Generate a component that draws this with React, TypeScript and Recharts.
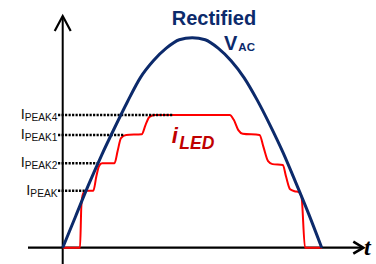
import React from 'react';
import { ComposedChart, Line, XAxis, YAxis, ReferenceLine, ReferenceDot } from 'recharts';

// Rectified AC voltage (time in ms, normalised amplitude)
const vacTime = [0, 0.5, 1, 1.5, 2, 2.5, 3, 3.5, 4, 4.5, 5, 5.5, 6, 6.5, 7, 7.5, 8, 8.5, 9, 9.5, 10];
const vacValue = [0, 15, 30, 44, 57, 69.5, 81, 89, 95, 99, 100, 99, 95, 89, 81, 70.5, 58.5, 45.5, 31, 16, 0];

// LED current (stepped)
const iledTime = [0, 0.668, 0.72, 0.78, 0.88, 1.18, 1.3, 1.4, 1.52, 2.0, 2.12, 2.25, 2.45, 3.05, 3.2, 3.35, 3.56, 6.45, 6.6, 6.78, 6.95, 7.6, 7.75, 7.93, 8.1, 8.5, 8.62, 8.78, 8.95, 9.1, 9.22, 9.355, 10];
const iledValue = [0, 0, 20, 25.5, 27.1, 27.1, 34, 38.8, 40.2, 40.2, 46, 52.2, 53.7, 54, 58.5, 62.3, 63.2, 63.2, 61, 56, 54.3, 53.7, 48, 41.2, 39.8, 39.4, 34, 27.8, 26.9, 26.6, 24.3, 0, 0];

// Peak current levels
const peakNames = ['PEAK4', 'PEAK1', 'PEAK2', 'PEAK'];
const peakLevels = [63.2, 53.7, 40.2, 27.1];
const peakDotEnd = [4.26, 2.34, 1.44, 0.86];

const vacData = vacTime.map((t, i) => ({ t, v: vacValue[i] }));
const iledData = iledTime.map((t, i) => ({ t, i: iledValue[i] }));

const NAVY = '#0c2a6b';
const RED = '#ff0000';
const FONT = 'Liberation Sans, Arial, sans-serif';

const X_DOMAIN: [number, number] = [-1.34, 11.606];
const Y_DOMAIN: [number, number] = [-7.762, 110.333];

export default function App() {
  return (
    <div style={{ position: 'absolute', left: 0, top: 0, background: '#fff' }}>
      <ComposedChart
        width={376}
        height={264}
        margin={{ top: 16, right: 12.7, bottom: 0, left: 28 }}
      >
        <XAxis dataKey="t" type="number" domain={X_DOMAIN} allowDataOverflow hide />
        <YAxis type="number" domain={Y_DOMAIN} allowDataOverflow hide />

        {/* axes */}
        <ReferenceLine
          segment={[{ x: X_DOMAIN[0], y: 0 }, { x: 11.55, y: 0 }]}
          stroke="#000"
          strokeWidth={2.2}
          ifOverflow="visible"
        />
        <ReferenceLine
          segment={[{ x: 0, y: Y_DOMAIN[0] }, { x: 0, y: 110.1 }]}
          stroke="#000"
          strokeWidth={2}
          ifOverflow="visible"
        />
        <ReferenceDot
          x={X_DOMAIN[1]}
          y={0}
          ifOverflow="visible"
          shape={(p: any) => (
            <polyline
              points={`${p.cx - 10},${p.cy - 6} ${p.cx},${p.cy} ${p.cx - 10},${p.cy + 6}`}
              fill="none"
              stroke="#000"
              strokeWidth={2.6}
            />
          )}
        />
        <ReferenceDot
          x={0}
          y={Y_DOMAIN[1]}
          ifOverflow="visible"
          shape={(p: any) => (
            <polyline
              points={`${p.cx - 8},${p.cy + 15} ${p.cx},${p.cy} ${p.cx + 8},${p.cy + 15}`}
              fill="none"
              stroke="#000"
              strokeWidth={2.2}
            />
          )}
        />

        <Line
          data={iledData}
          dataKey="i"
          type="monotone"
          stroke={RED}
          strokeWidth={2}
          dot={false}
          activeDot={false}
          isAnimationActive={false}
        />

        {peakLevels.map((lvl, k) => (
          <ReferenceLine
            key={peakNames[k]}
            segment={[{ x: -0.18, y: lvl }, { x: peakDotEnd[k], y: lvl }]}
            ifOverflow="visible"
            shape={(p: any) => (
              <g>
                <line
                  x1={p.x1}
                  y1={p.y1}
                  x2={p.x2}
                  y2={p.y2}
                  stroke="#000"
                  strokeWidth={2.4}
                  strokeDasharray="2.2 1.3"
                />
                <text
                  x={Math.min(p.x1, p.x2) - 0.5}
                  y={p.y1 + 4}
                  textAnchor="end"
                  fontFamily={FONT}
                  fill="#111"
                >
                  <tspan fontSize={14.5}>I</tspan>
                  <tspan fontSize={10.2} dy={2}>{peakNames[k]}</tspan>
                </text>
              </g>
            )}
          />
        ))}

        <Line
          data={vacData}
          dataKey="v"
          type="monotone"
          stroke={NAVY}
          strokeWidth={3}
          dot={false}
          activeDot={false}
          isAnimationActive={false}
        />

        {/* labels */}
        <ReferenceDot
          x={4.208}
          y={106.05}
          ifOverflow="visible"
          shape={(p: any) => (
            <text x={p.cx} y={p.cy} fontFamily={FONT} fontWeight="bold" fontSize={20} fill={NAVY}>
              Rectified
            </text>
          )}
        />
        <ReferenceDot
          x={6.228}
          y={94.14}
          ifOverflow="visible"
          shape={(p: any) => (
            <text x={p.cx} y={p.cy} fontFamily={FONT} fontWeight="bold" fill={NAVY}>
              <tspan fontSize={20}>V</tspan>
              <tspan fontSize={11.5} dy={0.7} dx={1}>AC</tspan>
            </text>
          )}
        />
        <ReferenceDot
          x={4.208}
          y={49.71}
          ifOverflow="visible"
          shape={(p: any) => (
            <text x={p.cx} y={p.cy} fontFamily={FONT} fontWeight="bold" fontStyle="italic" fill="#c00000">
              <tspan fontSize={22}>i</tspan>
              <tspan fontSize={17.5} dy={5.7} dx={1.5}>LED</tspan>
            </text>
          )}
        />
        <ReferenceDot
          x={11.633}
          y={-3.48}
          ifOverflow="visible"
          shape={(p: any) => (
            <text x={p.cx} y={p.cy} fontFamily="Liberation Serif, Times New Roman, serif" fontStyle="italic" fontWeight="bold" fontSize={24} fill="#000">
              t
            </text>
          )}
        />
      </ComposedChart>
    </div>
  );
}
